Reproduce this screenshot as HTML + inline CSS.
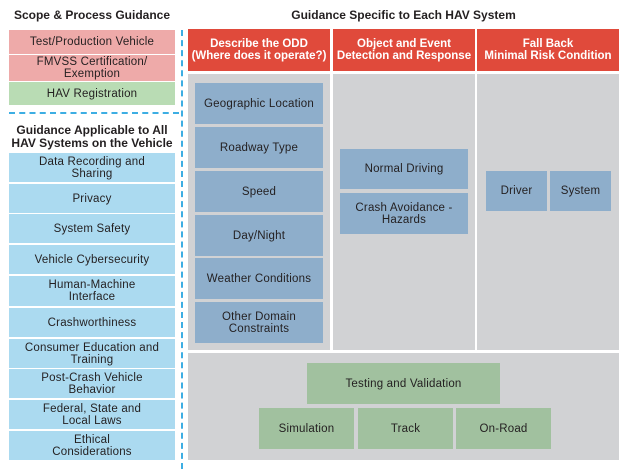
<!DOCTYPE html>
<html><head><meta charset="utf-8"><style>
body{margin:0;width:630px;height:469px;background:#fff;position:relative;overflow:hidden;font-family:"Liberation Sans",sans-serif;color:#231f20}
.b{position:absolute;display:flex;align-items:center;justify-content:center;text-align:center;font-size:11.5px;line-height:12px;box-sizing:border-box;letter-spacing:0.2px}
.pk{background:#eeaaa9}.gr{background:#b9dcb4}.lb{background:#abdaf0}.rd{background:#e04a3b;color:#fff;font-weight:bold;font-size:11.5px;letter-spacing:0}
.gy{background:#d1d2d4}.sb{background:#8eaecb}.sg{background:#a1c19f}
.t{position:absolute;font-weight:bold;font-size:12px;text-align:center;line-height:13px}
</style></head><body>
<div class="t" style="left:9px;top:9px;width:166px">Scope &amp; Process Guidance</div>
<div class="t" style="left:188px;top:9px;width:431px">Guidance Specific to Each HAV System</div>
<div class="b pk" style="left:9px;top:30px;width:166px;height:24px">Test/Production Vehicle</div>
<div class="b pk" style="left:9px;top:55px;width:166px;height:26px">FMVSS Certification/<br>Exemption</div>
<div class="b gr" style="left:9px;top:82px;width:166px;height:23px">HAV Registration</div>
<div style="position:absolute;left:9px;top:112px;width:170px;border-top:2px dashed #3daee3"></div>
<div style="position:absolute;left:181px;top:30px;height:439px;border-left:2px dashed #3daee3"></div>
<div class="t" style="left:5px;top:124px;width:174px">Guidance Applicable to All<br>HAV Systems on the Vehicle</div>
<div class="b lb" style="left:9px;top:153px;width:166px;height:29px">Data Recording and<br>Sharing</div>
<div class="b lb" style="left:9px;top:184px;width:166px;height:29px">Privacy</div>
<div class="b lb" style="left:9px;top:214px;width:166px;height:29px">System Safety</div>
<div class="b lb" style="left:9px;top:245px;width:166px;height:29px">Vehicle Cybersecurity</div>
<div class="b lb" style="left:9px;top:276px;width:166px;height:30px">Human-Machine<br>Interface</div>
<div class="b lb" style="left:9px;top:308px;width:166px;height:29px">Crashworthiness</div>
<div class="b lb" style="left:9px;top:339px;width:166px;height:29px">Consumer Education and<br>Training</div>
<div class="b lb" style="left:9px;top:369px;width:166px;height:29px">Post-Crash Vehicle<br>Behavior</div>
<div class="b lb" style="left:9px;top:400px;width:166px;height:29px">Federal, State and<br>Local Laws</div>
<div class="b lb" style="left:9px;top:431px;width:166px;height:29px">Ethical<br>Considerations</div>

<div class="b rd" style="left:188px;top:29px;width:142px;height:42px">Describe the ODD<br>(Where does it operate?)</div>
<div class="b rd" style="left:333px;top:29px;width:142px;height:42px">Object and Event<br>Detection and Response</div>
<div class="b rd" style="left:477px;top:29px;width:142px;height:42px">Fall Back<br>Minimal Risk Condition</div>
<div class="b gy" style="left:188px;top:74px;width:142px;height:276px"></div>
<div class="b gy" style="left:333px;top:74px;width:142px;height:276px"></div>
<div class="b gy" style="left:477px;top:74px;width:142px;height:276px"></div>
<div class="b gy" style="left:188px;top:353px;width:431px;height:107px"></div>

<div class="b sb" style="left:195px;top:83px;width:128px;height:41px">Geographic Location</div>
<div class="b sb" style="left:195px;top:127px;width:128px;height:41px">Roadway Type</div>
<div class="b sb" style="left:195px;top:171px;width:128px;height:41px">Speed</div>
<div class="b sb" style="left:195px;top:215px;width:128px;height:41px">Day/Night</div>
<div class="b sb" style="left:195px;top:258px;width:128px;height:41px">Weather Conditions</div>
<div class="b sb" style="left:195px;top:302px;width:128px;height:41px">Other Domain<br>Constraints</div>

<div class="b sb" style="left:340px;top:149px;width:128px;height:40px">Normal Driving</div>
<div class="b sb" style="left:340px;top:193px;width:128px;height:41px">Crash Avoidance -<br>Hazards</div>
<div class="b sb" style="left:486px;top:171px;width:61px;height:40px">Driver</div>
<div class="b sb" style="left:550px;top:171px;width:61px;height:40px">System</div>

<div class="b sg" style="left:307px;top:363px;width:193px;height:41px">Testing and Validation</div>
<div class="b sg" style="left:259px;top:408px;width:95px;height:41px">Simulation</div>
<div class="b sg" style="left:358px;top:408px;width:95px;height:41px">Track</div>
<div class="b sg" style="left:456px;top:408px;width:95px;height:41px">On-Road</div>
</body></html>
